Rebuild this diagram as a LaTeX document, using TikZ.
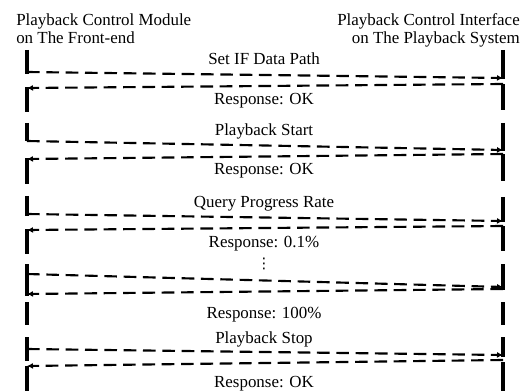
\documentclass[tikz,border=0pt]{standalone}
\usepackage{fontspec}
\setmainfont{Liberation Serif}
\newfontfamily\symfont{DejaVu Sans}
\usetikzlibrary{arrows.meta,positioning}

\tikzset{
    lifeline/.style={line width=2.3pt},
    msg/.style={-{Latex[length=4.5pt,width=4.5pt]}, line width=1.6pt, dash pattern=on 9.5pt off 5pt},
    msglabel/.style={anchor=base, inner sep=0pt, font=\fontsize{12.7}{15}\selectfont},
}

\begin{document}
\begin{tikzpicture}[x=0.75pt, y=-0.75pt]
    \useasboundingbox (0,0) rectangle (523,391);

    % Headers of the two sides
    \node[msglabel, anchor=base west] (front) at (16,26) {Playback Control Module};
    \node[msglabel, anchor=base west] (front2) at (16,44) {on The Front-end};
    \node[msglabel, anchor=base east] (iface) at (520,26) {Playback Control Interface};
    \node[msglabel, anchor=base east] (iface2) at (520,44) {on The Playback System};

    % Lifeline pieces, left and right
    \foreach \t/\b in {50/74, 87/112, 123/141, 158/184, 196/216, 229/254, 264/296, 302/325, 337/361, 366/391}
        \draw[lifeline] (27,\t) -- (27,\b);
    \foreach \t/\b in {50/79, 84/110, 123/151, 154/181, 197/222, 226/251, 264/290, 302/325, 337/357, 362/391}
        \draw[lifeline] (503,\t) -- (503,\b);

    % Message end points
    \coordinate (req1a) at (27,72);  \coordinate (req1b) at (503,78);
    \coordinate (rsp1a) at (503,84); \coordinate (rsp1b) at (27,88);
    \coordinate (req2a) at (27,141); \coordinate (req2b) at (503,150);
    \coordinate (rsp2a) at (503,154); \coordinate (rsp2b) at (27,159);
    \coordinate (req3a) at (27,214); \coordinate (req3b) at (503,221);
    \coordinate (rsp3a) at (503,226); \coordinate (rsp3b) at (27,230);
    \coordinate (req4a) at (27,274); \coordinate (req4b) at (503,287);
    \coordinate (rsp4a) at (503,289); \coordinate (rsp4b) at (27,294);
    \coordinate (req5a) at (27,349); \coordinate (req5b) at (503,355);
    \coordinate (rsp5a) at (503,360); \coordinate (rsp5b) at (27,366);

    % Requests and responses
    \draw[msg] (req1a) -- (req1b);
    \draw[msg] (rsp1a) -- (rsp1b);
    \draw[msg] (req2a) -- (req2b);
    \draw[msg] (rsp2a) -- (rsp2b);
    \draw[msg] (req3a) -- (req3b);
    \draw[msg] (rsp3a) -- (rsp3b);
    \draw[msg] (req4a) -- (req4b);
    \draw[msg] (rsp4a) -- (rsp4b);
    \draw[msg] (req5a) -- (req5b);
    \draw[msg] (rsp5a) -- (rsp5b);

    % Labels
    \node[msglabel] (setif) at (264,65) {Set IF Data Path};
    \node[msglabel] (ok1) at (264,105) {Response: OK};
    \node[msglabel] (start) at (264,136) {Playback Start};
    \node[msglabel] (ok2) at (264,175) {Response: OK};
    \node[msglabel] (query) at (264,208) {Query Progress Rate};
    \node[msglabel] (rate1) at (264,247) {Response: 0.1\%};
    \node[msglabel, font=\symfont\fontsize{11}{12}\selectfont] (dots) at (264,268) {⋮};
    \node[msglabel] (rate2) at (264,318) {Response: 100\%};
    \node[msglabel] (stop) at (264,343) {Playback Stop};
    \node[msglabel] (ok3) at (264,387) {Response: OK};
\end{tikzpicture}
\end{document}
